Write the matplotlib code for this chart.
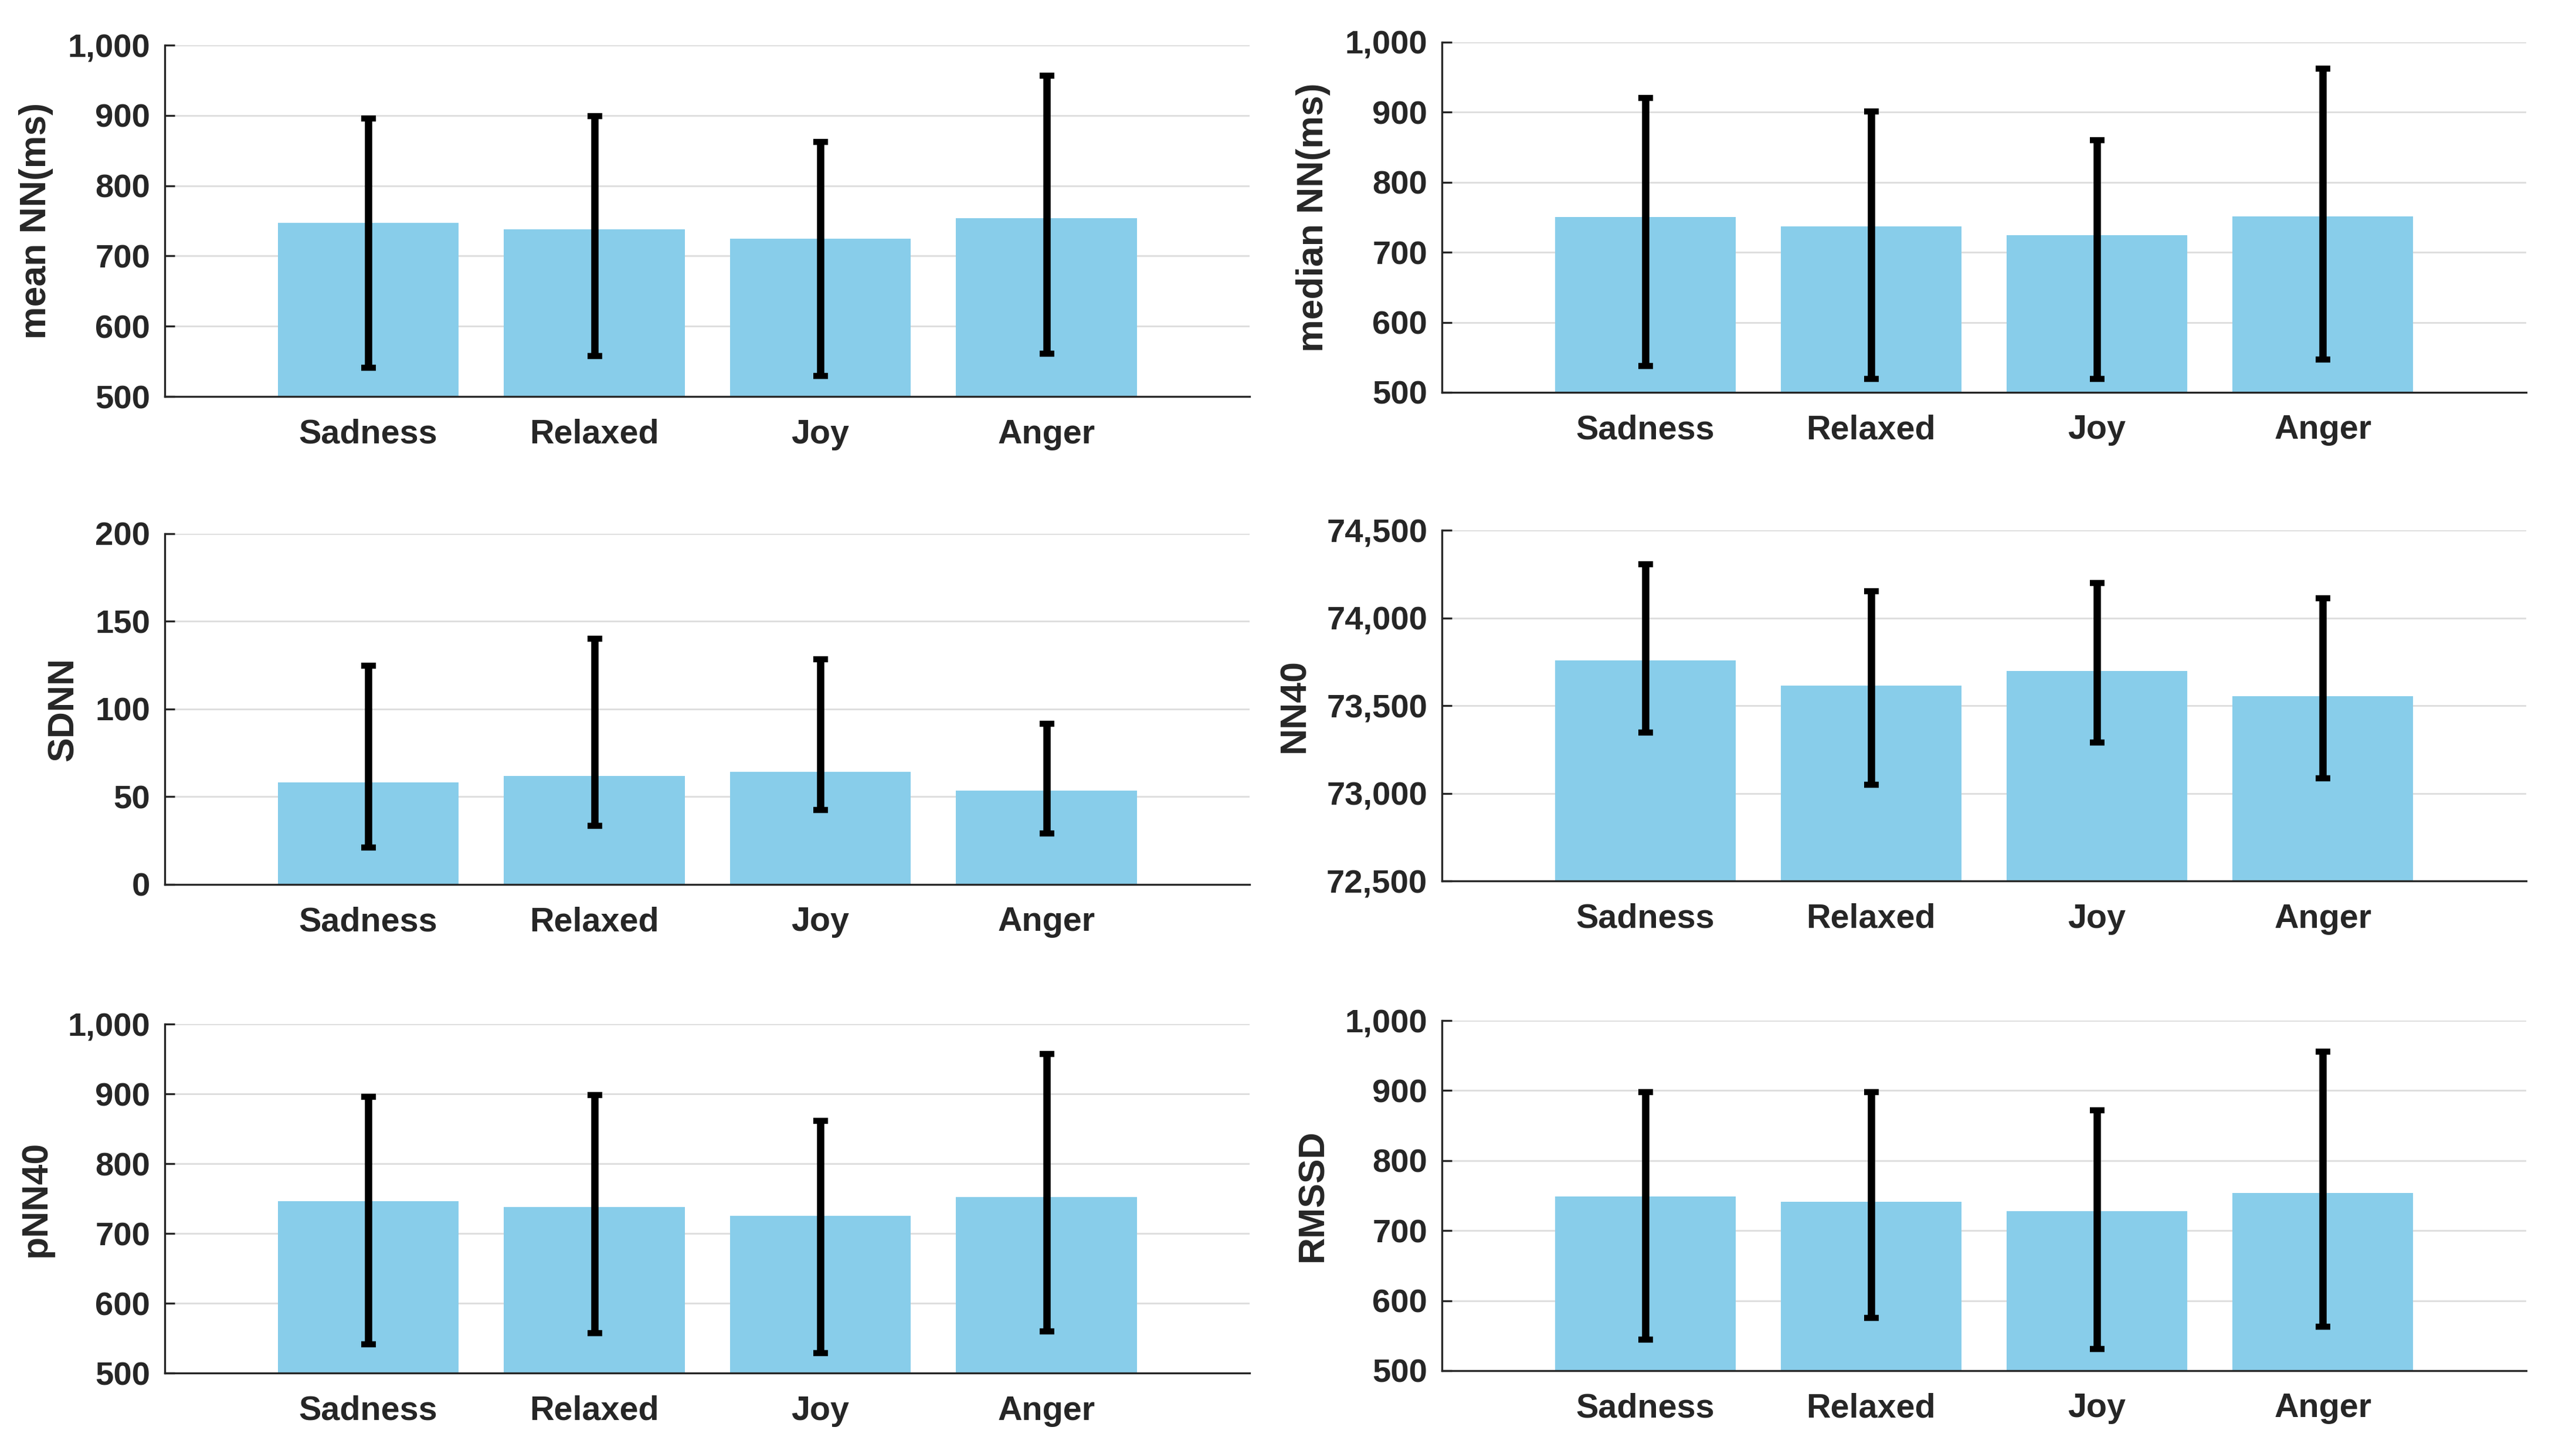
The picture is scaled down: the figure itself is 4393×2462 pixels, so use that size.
import numpy as np
import matplotlib
matplotlib.use("Agg")
import matplotlib.pyplot as plt
from matplotlib.ticker import FuncFormatter

plt.rcParams['font.family'] = ['Liberation Sans', 'DejaVu Sans']
plt.rcParams['font.weight'] = 'bold'

categories = ["Sadness", "Relaxed", "Joy", "Anger"]

# bar heights, error bar lower end, error bar upper end
mean_nn = [747, 738, 725, 754]
mean_nn_lo = [541, 558, 529, 561]
mean_nn_hi = [896, 899, 862, 957]

median_nn = [750, 737, 724, 751]
median_nn_lo = [538, 519, 519, 547]
median_nn_hi = [920, 901, 860, 962]

sdnn = [58.2, 61.9, 64.3, 53.4]
sdnn_lo = [21.2, 33.6, 42.3, 29.0]
sdnn_hi = [124.6, 140.1, 128.5, 91.6]

nn40 = [73758, 73613, 73696, 73555]
nn40_lo = [73348, 73048, 73290, 73085]
nn40_hi = [74305, 74152, 74200, 74113]

pnn40 = [746, 738, 725, 752]
pnn40_lo = [541, 557, 529, 560]
pnn40_hi = [896, 898, 861, 957]

rmssd = [749, 741, 728, 754]
rmssd_lo = [544, 575, 531, 563]
rmssd_hi = [898, 898, 872, 956]

panels = [
    ("mean NN(ms)", mean_nn, mean_nn_lo, mean_nn_hi, (500, 1000), np.arange(500, 1001, 100)),
    ("median NN(ms)", median_nn, median_nn_lo, median_nn_hi, (500, 1000), np.arange(500, 1001, 100)),
    ("SDNN", sdnn, sdnn_lo, sdnn_hi, (0, 200), np.arange(0, 201, 50)),
    ("NN40", nn40, nn40_lo, nn40_hi, (72500, 74500), np.arange(72500, 74501, 500)),
    ("pNN40", pnn40, pnn40_lo, pnn40_hi, (500, 1000), np.arange(500, 1001, 100)),
    ("RMSSD", rmssd, rmssd_lo, rmssd_hi, (500, 1000), np.arange(500, 1001, 100)),
]

# axes rectangles [left, bottom, width, height] in figure fractions
rects = [
    [0.064, 0.7254, 0.4212, 0.2433], [0.5598, 0.7283, 0.4208, 0.2425],
    [0.064, 0.3875, 0.4212, 0.2429], [0.5598, 0.3899, 0.4208, 0.2429],
    [0.064, 0.0491, 0.4212, 0.2417], [0.5598, 0.0508, 0.4208, 0.2424],
]

bar_color = "#88CDEA"
txt = "#262626"

fig = plt.figure(figsize=(4393 / 300, 2462 / 300), dpi=300)
x = np.arange(1, len(categories) + 1)

for rect, (label, vals, lo, hi, ylim, yticks) in zip(rects, panels):
    ax = fig.add_axes(rect)
    vals = np.array(vals, dtype=float)
    yerr = [vals - np.array(lo), np.array(hi) - vals]
    ax.bar(x, vals, width=0.8, color=bar_color, zorder=2, bottom=0)
    ax.errorbar(x, vals, yerr=yerr, fmt="none", ecolor="black", elinewidth=3,
                capsize=3, capthick=2.5, zorder=3)
    ax.set_xlim(0.1, 4.9)
    ax.set_ylim(*ylim)
    ax.set_yticks(yticks)
    ax.set_xticks(x)
    ax.set_xticklabels(categories)
    ax.yaxis.set_major_formatter(FuncFormatter(lambda v, p: f"{int(v):,}"))
    ax.grid(axis="y", color="#dedede", linewidth=0.7, zorder=0)
    ax.set_axisbelow(True)
    for s in ["top", "right"]:
        ax.spines[s].set_visible(False)
    for s in ["left", "bottom"]:
        ax.spines[s].set_color(txt)
        ax.spines[s].set_linewidth(0.8)
    ax.tick_params(axis="x", direction="in", length=4, width=0.6, color=txt,
                   pad=9, labelsize=13.8, labelcolor=txt)
    ax.tick_params(axis="y", direction="in", length=4, width=0.8, color=txt,
                   pad=6, labelsize=13.5, labelcolor=txt)
    for t in ax.get_xticklabels() + ax.get_yticklabels():
        t.set_fontweight("bold")
    ax.set_ylabel(label, fontsize=15, fontweight="bold", color=txt, labelpad=6)

fig.savefig("out.png", dpi=300)
